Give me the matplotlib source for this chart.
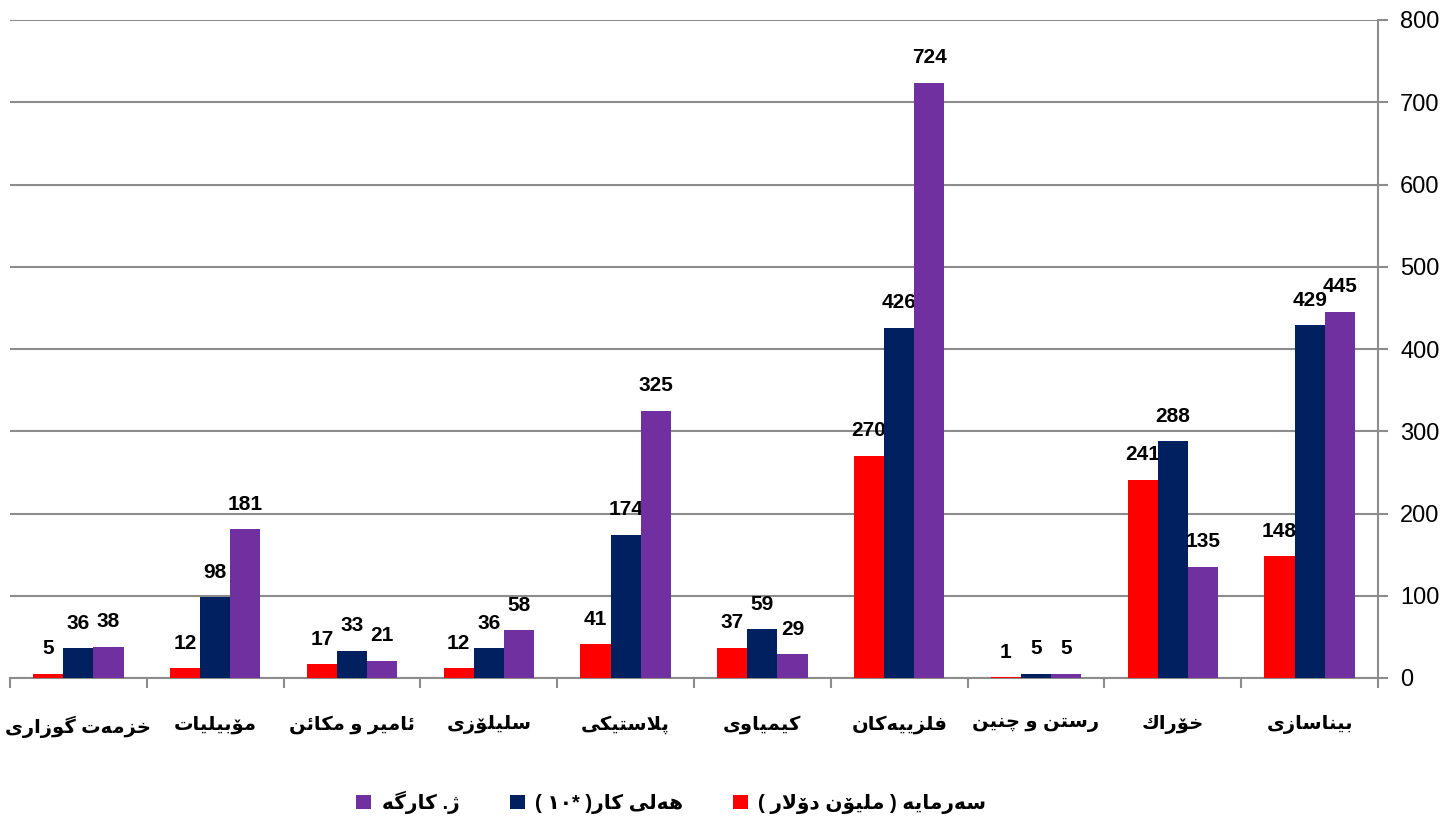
import numpy as np
import matplotlib
matplotlib.use("Agg")
import matplotlib.pyplot as plt
from matplotlib.ticker import FixedLocator, MultipleLocator

plt.rcParams['font.family'] = ['Liberation Sans', 'DejaVu Sans']

# داتا: ڕیزبەندی لە ڕاستەوە بۆ چەپ
categories = ['بیناسازی', 'خۆراك', 'رستن و چنین', 'فلزییەکان', 'کیمیاوی',
              'پلاستیکی', 'سلیلۆزی', 'ئامێر و مکائن', 'مۆبیلیات', 'خزمەت گوزاری']
capital = [148, 241, 1, 270, 37, 41, 12, 17, 12, 5]
jobs = [429, 288, 5, 426, 59, 174, 36, 33, 98, 36]
factories = [445, 135, 5, 724, 29, 325, 58, 21, 181, 38]
series_names = ['سەرمایە ( ملیۆن دۆلار )', 'هەلی کار( *١٠ )', 'ژ. کارگە']
colors = ['#ff0000', '#002060', '#7030a0']

# matplotlib نووسینی عەرەبی ناگرێت، بۆیە شێوەی پیتەکان بە دەست دادەنرێن
FORMS = {
    'ب': (0xFE8F, 0xFE90, 0xFE91, 0xFE92), 'ت': (0xFE95, 0xFE96, 0xFE97, 0xFE98),
    'ج': (0xFE9D, 0xFE9E, 0xFE9F, 0xFEA0), 'خ': (0xFEA5, 0xFEA6, 0xFEA7, 0xFEA8),
    'س': (0xFEB1, 0xFEB2, 0xFEB3, 0xFEB4), 'ف': (0xFED1, 0xFED2, 0xFED3, 0xFED4),
    'ك': (0xFED9, 0xFEDA, 0xFEDB, 0xFEDC), 'ل': (0xFEDD, 0xFEDE, 0xFEDF, 0xFEE0),
    'م': (0xFEE1, 0xFEE2, 0xFEE3, 0xFEE4), 'ن': (0xFEE5, 0xFEE6, 0xFEE7, 0xFEE8),
    'ه': (0xFEE9, 0xFEEA, 0xFEEB, 0xFEEC), 'ئ': (0xFE89, 0xFE8A, 0xFE8B, 0xFE8C),
    'پ': (0xFB56, 0xFB57, 0xFB58, 0xFB59), 'چ': (0xFB7A, 0xFB7B, 0xFB7C, 0xFB7D),
    'ک': (0xFB8E, 0xFB8F, 0xFB90, 0xFB91), 'گ': (0xFB92, 0xFB93, 0xFB94, 0xFB95),
    'ی': (0xFBFC, 0xFBFD, 0xFBFE, 0xFBFF), 'ێ': (0x06CE, 0x06CE, 0xFBFE, 0xFBFF),
    'ا': (0xFE8D, 0xFE8E), 'د': (0xFEA9, 0xFEAA), 'ر': (0xFEAD, 0xFEAE),
    'ز': (0xFEAF, 0xFEB0), 'ژ': (0xFB8A, 0xFB8B), 'و': (0xFEED, 0xFEEE),
    'ۆ': (0xFBD9, 0xFBDA), 'ە': (0xFEE9, 0xFEEA),
}
MIRROR = {'(': ')', ')': '('}


def shape(text):
    out = []
    i = 0
    n = len(text)
    while i < n:
        c = text[i]
        if c not in FORMS:
            out.append(MIRROR.get(c, c))
            i += 1
            continue
        prev = text[i - 1] if i > 0 else ''
        joins_prev = prev in FORMS and len(FORMS[prev]) == 4
        if c == 'ل' and i + 1 < n and text[i + 1] == 'ا':
            out.append(chr(0xFEFC if joins_prev else 0xFEFB))
            i += 2
            continue
        nxt = text[i + 1] if i + 1 < n else ''
        f = FORMS[c]
        joins_next = len(f) == 4 and nxt in FORMS
        if joins_prev and joins_next:
            out.append(chr(f[3]))
        elif joins_prev:
            out.append(chr(f[1]))
        elif joins_next:
            out.append(chr(f[2]))
        else:
            out.append(chr(f[0]))
        i += 1
    # ڕاست بۆ چەپ، ژمارەکان چەپ بۆ ڕاست دەمێننەوە
    vis = ''.join(reversed(out))
    res, run = '', ''
    for ch in vis:
        if ch.isdigit():
            run += ch
        else:
            res += run[::-1] + ch
            run = ''
    return res + run[::-1]


fig = plt.figure(figsize=(14.47, 8.23), dpi=100)
ax = fig.add_axes([10 / 1447, 1 - 678 / 823, 1368 / 1447, 658 / 823])

x = np.arange(len(categories))
w = 0.22
all_series = [capital, jobs, factories]
offsets = [w, 0, -w]  # تەوەرەی x پێچەوانە کراوە
for vals, off, col, name in zip(all_series, offsets, colors, series_names):
    ax.bar(x + off, vals, w, color=col, label=shape(name), zorder=3)
    for xi, v in zip(x + off, vals):
        ax.annotate(str(v), (xi, v), xytext=(0, 18), textcoords='offset points',
                    ha='center', va='center', fontsize=15, fontweight='bold')

ax.set_xlim(len(categories) - 0.5, -0.5)
ax.set_ylim(0, 800)
ax.yaxis.set_major_locator(MultipleLocator(100))
ax.yaxis.tick_right()
ax.grid(axis='y', color='#8c8c8c', linewidth=1.5, zorder=0)
ax.set_axisbelow(True)

ax.set_xticks(x)
ax.set_xticklabels([shape(c) for c in categories], fontsize=14, fontweight='bold')
ax.xaxis.set_minor_locator(FixedLocator(np.arange(-0.5, len(categories), 1.0)))
ax.tick_params(axis='x', which='major', length=0, pad=27)
ax.tick_params(axis='x', which='minor', length=7, width=1.5, color='#8c8c8c', direction='out')
ax.tick_params(axis='y', length=7, width=1.5, color='#8c8c8c', direction='out',
               labelsize=17, pad=9)

for s in ['left', 'top']:
    ax.spines[s].set_visible(False)
for s in ['right', 'bottom']:
    ax.spines[s].set_color('#8c8c8c')
    ax.spines[s].set_linewidth(1.5)

handles, labels = ax.get_legend_handles_labels()
fig.legend(handles[::-1], labels[::-1], loc='center', bbox_to_anchor=(0.464, 0.025),
           ncol=3, frameon=False, prop={'size': 14.5, 'weight': 'bold'},
           handlelength=0.75, handleheight=0.75, handletextpad=0.5, columnspacing=2.5)

fig.savefig('out.png', dpi=100)
